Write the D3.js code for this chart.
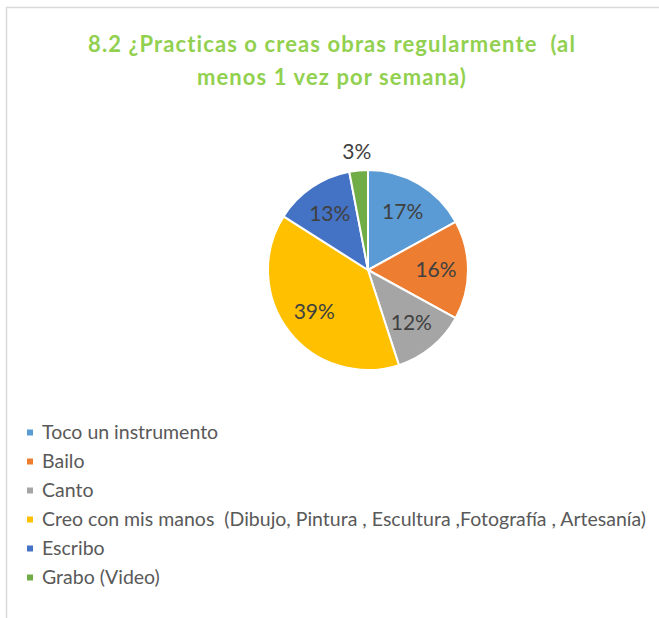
<!DOCTYPE html>
<html>
<head>
<meta charset="utf-8">
<script src="https://cdn.jsdelivr.net/npm/d3@7"></script>
<style>
  html, body { margin: 0; padding: 0; background: #fff; }
  svg { display: block; font-family: Lato, "Open Sans", sans-serif; }
  svg text { white-space: pre; }
</style>
</head>
<body>
<div id="chart"></div>
<script>
const titleLines = ['8.2 ¿Practicas o creas obras regularmente  (al', 'menos 1 vez por semana)'];
const categories = [
  'Toco un instrumento',
  'Bailo',
  'Canto',
  'Creo con mis manos  (Dibujo, Pintura , Escultura ,Fotografía , Artesanía)',
  'Escribo',
  'Grabo (Video)',
];
const percents = [17, 16, 12, 39, 13, 3];
const colors = ['#5B9BD5', '#ED7D31', '#A5A5A5', '#FFC000', '#4472C4', '#70AD47'];

const width = 659;
const height = 618;
const cx = 368;
const cy = 270;
const radius = 100;

const svg = d3.select('#chart')
  .append('svg')
  .attr('width', width)
  .attr('height', height)
  .attr('viewBox', `0 0 ${width} ${height}`);

// chart area border (right and bottom edges are cut off in the picture)
svg.append('path')
  .attr('d', `M6.5,${height} V7.5 H${width}`)
  .attr('fill', 'none')
  .attr('stroke', '#D9D9D9')
  .attr('stroke-width', 1.5);

svg.append('g')
  .selectAll('text')
  .data(titleLines)
  .join('text')
  .attr('x', 332)
  .attr('y', (d, i) => 52 + i * 33)
  .attr('text-anchor', 'middle')
  .attr('font-size', 22)
  .attr('font-weight', 700)
  .attr('letter-spacing', 1.1)
  .attr('fill', '#92D050')
  .text(d => d);

const color = d3.scaleOrdinal().domain(categories).range(colors);

const pie = d3.pie()
  .sort(null)
  .value(d => d.value);

const arcs = pie(categories.map((c, i) => ({ name: c, value: percents[i] })));

const arc = d3.arc().innerRadius(0).outerRadius(radius);
const labelArc = d3.arc().innerRadius(radius * 0.68).outerRadius(radius * 0.68);
const outerLabelArc = d3.arc().innerRadius(radius + 19).outerRadius(radius + 19);

const pieG = svg.append('g').attr('transform', `translate(${cx},${cy})`);

pieG.selectAll('path')
  .data(arcs)
  .join('path')
  .attr('d', arc)
  .attr('fill', d => color(d.data.name))
  .attr('stroke', '#fff')
  .attr('stroke-width', 2)
  .attr('stroke-linejoin', 'round');

pieG.selectAll('text')
  .data(arcs)
  .join('text')
  .attr('transform', d => {
    const p = d.data.value < 5 ? outerLabelArc.centroid(d) : labelArc.centroid(d);
    return `translate(${p})`;
  })
  .attr('text-anchor', 'middle')
  .attr('dy', '0.35em')
  .attr('font-size', 21)
  .attr('fill', '#404040')
  .text(d => `${d.data.value}%`);

const legend = svg.append('g')
  .selectAll('g')
  .data(categories)
  .join('g')
  .attr('transform', (d, i) => `translate(27,${432.5 + i * 29})`);

legend.append('rect')
  .attr('x', 0)
  .attr('y', -3)
  .attr('width', 6)
  .attr('height', 6)
  .attr('fill', d => color(d));

legend.append('text')
  .attr('x', 15)
  .attr('dy', '0.35em')
  .attr('font-size', 19.5)
  .attr('fill', '#595959')
  .text(d => d);
</script>
</body>
</html>
